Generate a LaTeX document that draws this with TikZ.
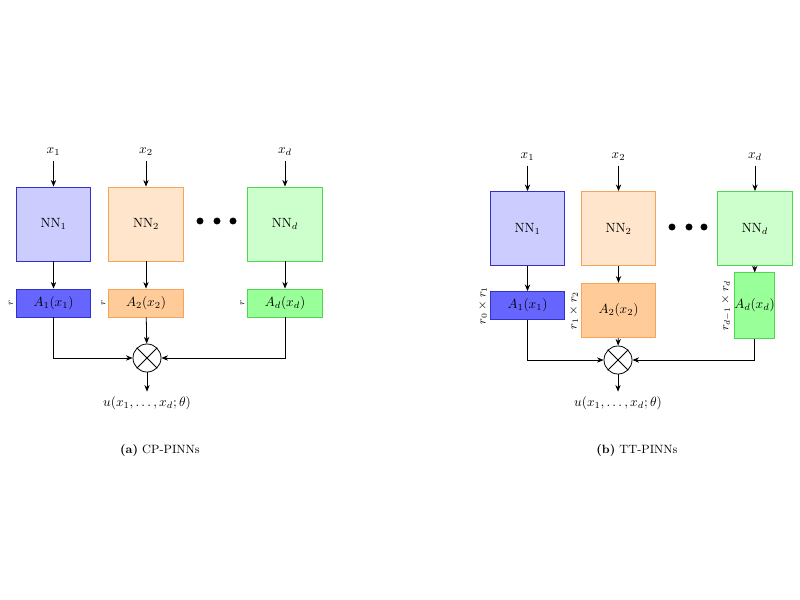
\documentclass[tikz,border=0pt]{standalone}
\usepackage{amsmath,amssymb}
\usetikzlibrary{arrows.meta,positioning}
\definecolor{blueline}{RGB}{50,50,200}
\definecolor{orangeline}{RGB}{245,165,85}
\definecolor{greenline}{RGB}{80,215,80}

\begin{document}
\begin{tikzpicture}[x=0.75pt,y=-0.75pt,
    nnbox/.style={draw, semithick, minimum width=56pt, minimum height=55.5pt, inner sep=0pt},
    abox/.style={draw, semithick, minimum width=56pt, minimum height=21pt, inner sep=0pt},
    link/.style={semithick, -{Stealth[length=5pt,width=4pt]}},
    prod/.style={draw, semithick, circle, minimum size=21pt, inner sep=0pt},
    rank/.style={rotate=90, anchor=south, inner sep=2pt, font=\small}]
\useasboundingbox (0,0) rectangle (800,600);

% (a) CP-PINNs
\node (x1a) at (53.5,152) {$x_1$};
\node (x2a) at (146,152) {$x_2$};
\node (xda) at (285,152) {$x_d$};
\node[nnbox, draw=blueline, fill=blue!20] (nn1a) at (53.5,224) {NN$_1$};
\node[nnbox, draw=orangeline, fill=orange!20] (nn2a) at (146,224) {NN$_2$};
\node[nnbox, draw=greenline, fill=green!20] (nnda) at (285,224) {NN$_d$};
\foreach \xx in {200,217,233} \fill (\xx,221) circle (2.6pt);
\node[abox, draw=blueline, fill=blue!60] (a1a) at (53.5,303) {$A_1(x_1)$};
\node[abox, draw=orangeline, fill=orange!40] (a2a) at (146,303) {$A_2(x_2)$};
\node[abox, draw=greenline, fill=green!40] (ada) at (285,303) {$A_d(x_d)$};
\node[rank, font=\scriptsize] (r1a) at (a1a.west) {$r$};
\node[rank, font=\scriptsize] (r2a) at (a2a.west) {$r$};
\node[rank, font=\scriptsize] (rda) at (ada.west) {$r$};
\node[prod] (ma) at (147,358) {};
\draw[semithick] (ma.north east) -- (ma.south west) (ma.north west) -- (ma.south east);
\node (ua) at (147,403) {$u(x_1,\dots,x_d;\theta)$};
\foreach \u/\v in {x1a/nn1a,x2a/nn2a,xda/nnda,nn1a/a1a,nn2a/a2a,nnda/ada,a2a/ma,ma/ua}
  \draw[link] (\u) -- (\v);
\draw[link] (a1a.south) |- (ma.west);
\draw[link] (ada.south) |- (ma.east);
\node[font=\small] (capa) at (160,450) {\textbf{(a)} CP-PINNs};

% (b) TT-PINNs
\node (x1b) at (527.5,157) {$x_1$};
\node (x2b) at (618.5,157) {$x_2$};
\node (xdb) at (755,157) {$x_d$};
\node[nnbox, draw=blueline, fill=blue!20] (nn1b) at (527.5,228.5) {NN$_1$};
\node[nnbox, draw=orangeline, fill=orange!20] (nn2b) at (618.5,228.5) {NN$_2$};
\node[nnbox, draw=greenline, fill=green!20] (nndb) at (755,228.5) {NN$_d$};
\foreach \xx in {672,689,704} \fill (\xx,227) circle (2.6pt);
\node[abox, draw=blueline, fill=blue!60] (a1b) at (527.5,305.5) {$A_1(x_1)$};
\node[abox, draw=orangeline, fill=orange!40, minimum height=41pt] (a2b) at (618.5,310.5) {$A_2(x_2)$};
\node[abox, draw=greenline, fill=green!40, minimum width=28pt, minimum height=49pt] (adb) at (754.5,305.5) {$A_d(x_d)$};
\node[rank] (r1b) at (a1b.west) {$r_0\times r_1$};
\node[rank] (r2b) at (a2b.west) {$r_1\times r_2$};
\node[rank] (rdb) at (adb.west) {$r_{d-1}\times r_d$};
\node[prod] (mb) at (618,360) {};
\draw[semithick] (mb.north east) -- (mb.south west) (mb.north west) -- (mb.south east);
\node (ub) at (618,403) {$u(x_1,\dots,x_d;\theta)$};
\foreach \u/\v in {x1b/nn1b,x2b/nn2b,xdb/nndb,nn1b/a1b,nn2b/a2b,nndb/adb,a2b/mb,mb/ub}
  \draw[link] (\u) -- (\v);
\draw[link] (a1b.south) |- (mb.west);
\draw[link] (adb.south) |- (mb.east);
\node[font=\small] (capb) at (637,450) {\textbf{(b)} TT-PINNs};
\end{tikzpicture}
\end{document}
